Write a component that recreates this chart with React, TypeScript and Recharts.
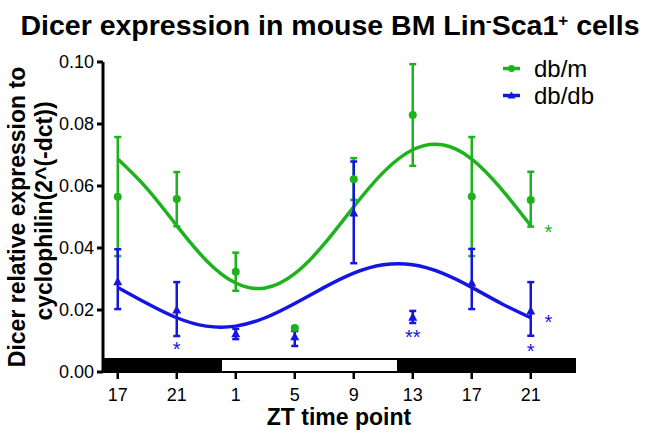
import {
  ComposedChart,
  ErrorBar,
  Legend,
  Line,
  ReferenceArea,
  Scatter,
  XAxis,
  YAxis,
} from "recharts";

const GREEN = "#1db31d";
const BLUE = "#1515e2";
const FONT = "'Liberation Sans', Arial, Helvetica, sans-serif";

// sampling times as continuous ZT hours (25 = ZT1 of the next day)
const times = [17, 21, 25, 29, 33, 37, 41, 45];
const tickHours = [17, 21, 25, 29, 33, 37, 41, 45];
const yTicks = [0, 0.02, 0.04, 0.06, 0.08, 0.1];

const seriesNames = ["db/m", "db/db"];

// db/m: mean and error bar ends
const dbmMean = [0.0565, 0.0558, 0.0323, 0.0142, 0.0622, 0.0829, 0.0566, 0.0555];
const dbmLow = [0.0374, 0.047, 0.0262, 0.0138, 0.0555, 0.0665, 0.0374, 0.0469];
const dbmHigh = [0.0758, 0.0645, 0.0385, 0.0146, 0.069, 0.0993, 0.0758, 0.0646];

// db/db: mean and error bar ends
const dbdbMean = [0.0291, 0.02, 0.0123, 0.0114, 0.0513, 0.0177, 0.0287, 0.0197];
const dbdbLow = [0.0203, 0.0116, 0.0106, 0.0084, 0.0351, 0.0158, 0.0203, 0.0117];
const dbdbHigh = [0.0396, 0.029, 0.0139, 0.0132, 0.0679, 0.0197, 0.0397, 0.029];

// fitted curves, every 2 h
const fitTimes = [17, 19, 21, 23, 25, 27, 29, 31, 33, 35, 37, 39, 41, 43, 45];
const dbmFit = [0.0687, 0.0591, 0.0472, 0.036, 0.0287, 0.0271, 0.0317, 0.0413, 0.0533, 0.0644, 0.0717, 0.0733, 0.0687, 0.0591, 0.0472];
const dbdbFit = [0.0273, 0.0221, 0.0175, 0.0148, 0.0148, 0.0175, 0.0221, 0.0273, 0.0319, 0.0346, 0.0346, 0.0319, 0.0273, 0.0221, 0.0175];

// light/dark bar along the time axis
const phaseStart = [16, 24, 36];
const phaseEnd = [24, 36, 48];
const phaseLight = [false, true, false];
const BAR_TOP = 0.0042;

// significance marks
const starTimes = [21, 37, 45, 46.2, 46.2];
const starValues = [0.0087, 0.0126, 0.0081, 0.0174, 0.0465];
const starLabels = ["*", "**", "*", "*", "*"];
const starSeries = ["db/db", "db/db", "db/db", "db/db", "db/m"];

const dbm = times.map((t, i) => ({
  t,
  y: dbmMean[i],
  err: [dbmMean[i] - dbmLow[i], dbmHigh[i] - dbmMean[i]],
}));
const dbdb = times.map((t, i) => ({
  t,
  y: dbdbMean[i],
  err: [dbdbMean[i] - dbdbLow[i], dbdbHigh[i] - dbdbMean[i]],
}));
const dbmCurve = fitTimes.map((t, i) => ({ t, y: dbmFit[i] }));
const dbdbCurve = fitTimes.map((t, i) => ({ t, y: dbdbFit[i] }));
const stars = starTimes.map((t, i) => ({
  t,
  y: starValues[i],
  label: starLabels[i],
  series: starSeries[i],
}));

const colorOf = (name: string) => (name === "db/m" ? GREEN : BLUE);

const Dot = (p: any) => <circle cx={p.cx} cy={p.cy} r={4} fill={GREEN} />;
const Tri = (p: any) => (
  <polygon
    points={`${p.cx},${p.cy - 5} ${p.cx + 4.5},${p.cy + 3.5} ${p.cx - 4.5},${p.cy + 3.5}`}
    fill={BLUE}
  />
);
const Star = (p: any) => (
  <text
    x={p.cx}
    y={p.cy + 11}
    textAnchor="middle"
    fontSize={20}
    fontFamily={FONT}
    fill={colorOf(p.payload.series)}
  >
    {p.payload.label}
  </text>
);

const YLabel = (props: any) => {
  const vb = props.viewBox;
  const cy = vb.y + vb.height / 2;
  const style = { fontFamily: FONT, fontSize: 23, fontWeight: 700, fill: "#000" };
  return (
    <g>
      <text transform={`translate(25,${cy}) rotate(-90)`} textAnchor="middle" {...style}>
        Dicer relative expression to
      </text>
      <text transform={`translate(52,${cy - 6}) rotate(-90)`} textAnchor="middle" {...style}>
        cyclophilin(2^(-dct))
      </text>
    </g>
  );
};

const XLabel = (props: any) => {
  const vb = props.viewBox;
  return (
    <text
      x={vb.x + vb.width / 2}
      y={vb.y + 53}
      textAnchor="middle"
      fontFamily={FONT}
      fontSize={23}
      fontWeight={700}
      fill="#000"
    >
      ZT time point
    </text>
  );
};

const LegendBox = () => (
  <div style={{ fontFamily: FONT, fontSize: 24, color: "#000" }}>
    {seriesNames.map((name) => (
      <div key={name} style={{ display: "flex", alignItems: "center", height: 27 }}>
        <svg width={33} height={27}>
          <line x1={2} x2={19} y1={13.5} y2={13.5} stroke={colorOf(name)} strokeWidth={3.5} />
          {name === "db/m" ? (
            <circle cx={10.5} cy={13.5} r={3.5} fill={GREEN} />
          ) : (
            <polygon points="10.5,9.5 14.5,16.5 6.5,16.5" fill={BLUE} />
          )}
        </svg>
        <span>{name}</span>
      </div>
    ))}
  </div>
);

export default function App() {
  const tickStyle = { fill: "#000", fontSize: 18, fontFamily: FONT };
  return (
    <div style={{ position: "absolute", left: 0, top: 0, width: 653, height: 434, background: "#fff" }}>
      <div
        style={{
          position: "absolute",
          left: 0,
          top: 6,
          width: 660,
          textAlign: "center",
          fontFamily: FONT,
          fontSize: 28.5,
          fontWeight: 700,
          lineHeight: "30px",
          color: "#000",
        }}
      >
        Dicer expression in mouse BM Lin
        <span style={{ fontSize: 17, verticalAlign: 9 }}>-</span>
        Sca1
        <span style={{ fontSize: 17, verticalAlign: 9 }}>+</span> cells
      </div>
      <ComposedChart width={653} height={434} margin={{ top: 62, right: 78, bottom: 0, left: 0 }}>
        <XAxis
          type="number"
          dataKey="t"
          domain={[16, 48]}
          ticks={tickHours}
          interval={0}
          tickFormatter={(h) => String(h % 24)}
          axisLine={false}
          tickLine={{ stroke: "#000", strokeWidth: 2.5 }}
          tickSize={7}
          tickMargin={9}
          height={62}
          tick={tickStyle}
          label={<XLabel />}
        />
        <YAxis
          type="number"
          domain={[0, 0.1]}
          ticks={yTicks}
          tickFormatter={(v) => Number(v).toFixed(2)}
          width={103}
          axisLine={{ stroke: "#000", strokeWidth: 3 }}
          tickLine={{ stroke: "#000", strokeWidth: 3 }}
          tickSize={6}
          tickMargin={3}
          tick={tickStyle}
          label={<YLabel />}
        />
        {phaseStart.map((s, i) => (
          <ReferenceArea
            key={s}
            x1={s}
            x2={phaseEnd[i]}
            y1={0}
            y2={BAR_TOP}
            fill={phaseLight[i] ? "#fff" : "#000"}
            fillOpacity={1}
            stroke="#000"
            strokeWidth={2}
          />
        ))}
        <Line
          data={dbmCurve}
          dataKey="y"
          type="natural"
          stroke={GREEN}
          strokeWidth={3.5}
          dot={false}
          activeDot={false}
          legendType="none"
          isAnimationActive={false}
        />
        <Line
          data={dbdbCurve}
          dataKey="y"
          type="natural"
          stroke={BLUE}
          strokeWidth={3.5}
          dot={false}
          activeDot={false}
          legendType="none"
          isAnimationActive={false}
        />
        <Scatter data={dbm} dataKey="y" name="db/m" fill={GREEN} shape={Dot} isAnimationActive={false}>
          <ErrorBar dataKey="err" direction="y" width={3.5} stroke={GREEN} strokeWidth={2.5} />
        </Scatter>
        <Scatter data={dbdb} dataKey="y" name="db/db" fill={BLUE} shape={Tri} isAnimationActive={false}>
          <ErrorBar dataKey="err" direction="y" width={3.5} stroke={BLUE} strokeWidth={2.5} />
        </Scatter>
        <Scatter data={stars} dataKey="y" shape={Star} legendType="none" isAnimationActive={false} />
        <Legend
          layout="horizontal"
          verticalAlign="middle"
          align="center"
          content={<LegendBox />}
          wrapperStyle={{ left: 501, top: 55, width: "auto" }}
        />
      </ComposedChart>
    </div>
  );
}
